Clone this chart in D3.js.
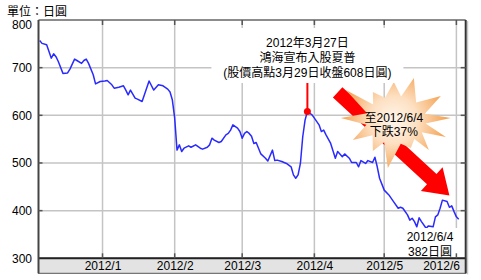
<!DOCTYPE html>
<html>
<head>
<meta charset="utf-8">
<script src="https://cdn.jsdelivr.net/npm/d3@7"></script>
<style>
  body { margin: 0; background: #fff; }
  text { font-family: "Liberation Sans", "Noto Sans CJK TC", sans-serif; font-size: 12px; fill: #000; }
</style>
</head>
<body>
<div id="chart"></div>
<script>
// daily closes (JPY)
const dates = [
  "2011-12-05","2011-12-06","2011-12-08","2011-12-10","2011-12-11","2011-12-12","2011-12-13","2011-12-15",
  "2011-12-17","2011-12-18","2011-12-20","2011-12-21","2011-12-23","2011-12-24","2011-12-25","2011-12-26",
  "2011-12-28","2011-12-29","2011-12-31","2012-01-02","2012-01-03","2012-01-05","2012-01-06","2012-01-08",
  "2012-01-10","2012-01-11","2012-01-12","2012-01-13","2012-01-15","2012-01-16","2012-01-18","2012-01-21",
  "2012-01-23","2012-01-25","2012-01-27","2012-01-29","2012-01-30","2012-01-31","2012-02-01","2012-02-02",
  "2012-02-03","2012-02-04","2012-02-05","2012-02-07","2012-02-08","2012-02-10","2012-02-12","2012-02-13",
  "2012-02-15","2012-02-16","2012-02-17","2012-02-18","2012-02-20","2012-02-21","2012-02-23","2012-02-24",
  "2012-02-25","2012-02-26","2012-02-28","2012-02-29","2012-03-01","2012-03-02","2012-03-03","2012-03-04",
  "2012-03-05","2012-03-06","2012-03-07","2012-03-08","2012-03-09","2012-03-11","2012-03-12","2012-03-14",
  "2012-03-15","2012-03-16","2012-03-18","2012-03-20","2012-03-22","2012-03-23","2012-03-24","2012-03-25",
  "2012-03-26","2012-03-27","2012-03-28","2012-03-29","2012-03-31","2012-04-01","2012-04-03","2012-04-04",
  "2012-04-05","2012-04-06","2012-04-08","2012-04-10","2012-04-11","2012-04-13","2012-04-14","2012-04-16",
  "2012-04-17","2012-04-19","2012-04-20","2012-04-21","2012-04-23","2012-04-24","2012-04-26","2012-04-27",
  "2012-04-28","2012-04-29","2012-05-01","2012-05-03","2012-05-05","2012-05-07","2012-05-08","2012-05-09",
  "2012-05-11","2012-05-12","2012-05-13","2012-05-14","2012-05-15","2012-05-16","2012-05-17","2012-05-19",
  "2012-05-20","2012-05-22","2012-05-23","2012-05-24","2012-05-25","2012-05-26","2012-05-28","2012-05-29",
  "2012-05-30","2012-05-31","2012-06-01","2012-06-02"
];
const prices = [
  757,751,748,720,729,723,713,688,
  689,697,718,715,709,715,718,709,
  685,666,671,672,673,664,657,659,
  662,653,643,653,636,634,629,672,
  653,664,662,655,649,632,594,527,
  538,524,531,536,533,538,531,529,
  533,538,552,548,543,545,559,562,
  569,580,573,566,552,562,566,562,
  556,541,543,531,519,510,504,527,
  505,506,503,499,492,475,468,475,
  499,555,590,608,601,594,580,566,
  569,559,541,510,524,513,519,510,
  501,501,492,505,499,505,501,512,
  492,468,443,433,419,405,407,405,
  391,380,384,377,366,385,377,363,
  368,366,387,391,405,422,419,407,
  410,398,387,382
];
const yTicks = [300, 400, 500, 600, 700, 800];
const monthTicks = ["2012-01-01","2012-02-01","2012-03-01","2012-04-01","2012-05-01","2012-06-01"];
const monthLabels = ["2012/1","2012/2","2012/3","2012/4","2012/5","2012/6"];
const peakDate = "2012-03-29", peakValue = 608;
const peakText = ["2012年3月27日", "鴻海宣布入股夏普", "(股價高點3月29日收盤608日圓)"];
const endText = ["2012/6/4", "382日圓"];
const burstText = ["至2012/6/4", "下跌37%"];

const WIDTH = 481, HEIGHT = 280;
const M = { left: 38.5, top: 20, right: 15.3, bottom: 21.7 };
const parse = d3.timeParse("%Y-%m-%d");
const data = dates.map((d, i) => ({ date: parse(d), value: prices[i] }));

const svg = d3.select("#chart").append("svg")
  .attr("width", WIDTH).attr("height", HEIGHT);

const x = d3.scaleTime()
  .domain([new Date(2011, 11, 4, 12), new Date(2012, 5, 5)])
  .range([M.left, WIDTH - M.right]);
const y = d3.scaleLinear()
  .domain([300, 800])
  .range([HEIGHT - M.bottom, M.top]);

const x0 = M.left, x1 = WIDTH - M.right, yTop = M.top, yBot = HEIGHT - M.bottom;

// title
svg.append("text").attr("x", 7).attr("y", 16).text("單位：日圓");

// grid
svg.append("g").selectAll("line").data(yTicks.slice(1, -1)).join("line")
  .attr("x1", x0).attr("x2", x1).attr("y1", d => y(d)).attr("y2", d => y(d))
  .attr("stroke", "#c4c4c4").attr("stroke-width", 1.5);
svg.append("g").selectAll("line").data(monthTicks).join("line")
  .attr("x1", d => x(parse(d))).attr("x2", d => x(parse(d)))
  .attr("y1", yTop).attr("y2", yBot)
  .attr("stroke", "#c4c4c4").attr("stroke-width", 1.5);

// price line
svg.append("path").datum(data)
  .attr("fill", "none").attr("stroke", "#2a2aff").attr("stroke-width", 1.5)
  .attr("stroke-linejoin", "round")
  .attr("d", d3.line().x(d => x(d.date)).y(d => y(d.value)));

// red arrow
const S = [x(parse("2012-04-11")), y(648)];
const T = [x(parse("2012-05-29")), y(432)];
const L = Math.hypot(T[0] - S[0], T[1] - S[1]);
const u = [(T[0] - S[0]) / L, (T[1] - S[1]) / L], n = [-u[1], u[0]];
const sw = 7, hw = 16, hl = 24;
const P = (a, b) => [S[0] + u[0] * a + n[0] * b, S[1] + u[1] * a + n[1] * b];
svg.append("path")
  .attr("d", "M" + [P(0, sw), P(L - hl, sw), P(L - hl, hw), P(L, 0), P(L - hl, -hw), P(L - hl, -sw), P(0, -sw)].join("L") + "Z")
  .attr("fill", "#ff0000");

// starburst
const cx = x(parse("2012-05-06")), cy = y(590);
const tips = [[18,-42],[45,-24],[55,-2],[50,17],[33,30],[15,28],[-8,48],[-23,31],[-43,20],[-55,-2],[-50,-30],[-23,-28],[-2,-38]];
const pts = [];
tips.forEach((t, i) => {
  const nx = tips[(i + 1) % tips.length];
  pts.push([cx + t[0], cy + t[1]]);
  let a1 = Math.atan2(t[1], t[0]), a2 = Math.atan2(nx[1], nx[0]);
  if (a2 < a1) a2 += 2 * Math.PI;
  const am = (a1 + a2) / 2;
  pts.push([cx + 30 * Math.cos(am), cy + 24 * Math.sin(am)]);
});
const defs = svg.append("defs");
const grad = defs.append("radialGradient").attr("id", "burst")
  .attr("gradientUnits", "userSpaceOnUse")
  .attr("cx", cx - 2).attr("cy", cy).attr("r", 52);
grad.append("stop").attr("offset", "0%").attr("stop-color", "#fff6ec");
grad.append("stop").attr("offset", "45%").attr("stop-color", "#fde0c2");
grad.append("stop").attr("offset", "100%").attr("stop-color", "#f5a457");
svg.append("path").attr("d", "M" + pts.join("L") + "Z").attr("fill", "url(#burst)");
svg.append("g").selectAll("text").data(burstText).join("text")
  .attr("x", cx - 2).attr("y", (d, i) => cy - 2 + i * 14).attr("dy", "0.35em")
  .attr("text-anchor", "middle").text(d => d);

// peak annotation
const px = x(parse(peakDate)), py = y(peakValue);
svg.append("rect").attr("x", px - 96).attr("y", 28).attr("width", 192).attr("height", 55).attr("fill", "#fff");
svg.append("line").attr("x1", px).attr("x2", px).attr("y1", 83).attr("y2", py)
  .attr("stroke", "#ff0000").attr("stroke-width", 2);
svg.append("circle").attr("cx", px).attr("cy", py).attr("r", 3.5).attr("fill", "#ff0000");
svg.append("g").selectAll("text").data(peakText).join("text")
  .attr("x", px).attr("y", (d, i) => 43 + i * 15).attr("dy", "0.35em")
  .attr("text-anchor", "middle").text(d => d);

// end annotation
const last = data[data.length - 1];
svg.append("rect").attr("x", 401).attr("y", 228).attr("width", 58).attr("height", 29).attr("fill", "#fff");
svg.append("g").selectAll("text").data(endText).join("text")
  .attr("x", 430).attr("y", (d, i) => 237 + i * 15).attr("dy", "0.35em")
  .attr("text-anchor", "middle").text(d => d);

// frame
svg.append("rect").attr("x", x0).attr("y", yBot).attr("width", x1 - x0).attr("height", 15)
  .attr("fill", "#e3e3e3").attr("stroke", "#555").attr("stroke-width", 1);
svg.append("line").attr("x1", x0).attr("x2", x1).attr("y1", yTop).attr("y2", yTop)
  .attr("stroke", "#666").attr("stroke-width", 1.5);
svg.append("line").attr("x1", x0).attr("x2", x1).attr("y1", yBot).attr("y2", yBot)
  .attr("stroke", "#222").attr("stroke-width", 2);
svg.append("line").attr("x1", x0).attr("x2", x0).attr("y1", yTop).attr("y2", yBot + 15)
  .attr("stroke", "#444").attr("stroke-width", 2);
svg.append("line").attr("x1", x1).attr("x2", x1).attr("y1", yTop).attr("y2", yBot + 15)
  .attr("stroke", "#333").attr("stroke-width", 2);
svg.append("line").attr("x1", x1 + 2).attr("x2", x1 + 2).attr("y1", yTop + 1).attr("y2", yBot + 16)
  .attr("stroke", "#bbb").attr("stroke-width", 1);

// ticks
const tk = svg.append("g").attr("stroke", "#555").attr("stroke-width", 1.5);
monthTicks.forEach(d => {
  const xx = x(parse(d));
  tk.append("line").attr("x1", xx).attr("x2", xx).attr("y1", yTop).attr("y2", yTop + 5);
  tk.append("line").attr("x1", xx).attr("x2", xx).attr("y1", yBot - 5).attr("y2", yBot);
});
yTicks.slice(1, -1).forEach(v => {
  tk.append("line").attr("x1", x1 - 5).attr("x2", x1).attr("y1", y(v)).attr("y2", y(v));
  tk.append("line").attr("x1", x0).attr("x2", x0 + 4).attr("y1", y(v)).attr("y2", y(v));
});

// y axis labels
const yAxis = svg.append("g").attr("transform", `translate(${x0},0)`)
  .call(d3.axisLeft(y).tickValues(yTicks).tickSize(0).tickPadding(6.5).tickFormat(d3.format("d")));
yAxis.select(".domain").remove();
yAxis.selectAll("text").style("font-size", "12px").attr("fill", "#000")
  .attr("y", d => Math.max(y(d), yTop + 5) - y(d));

// x axis labels
const xAxis = svg.append("g").attr("transform", `translate(0,${yBot})`)
  .call(d3.axisBottom(x).tickValues(monthTicks.map(parse)).tickSize(0).tickPadding(3.5)
    .tickFormat((d, i) => monthLabels[i]));
xAxis.select(".domain").remove();
xAxis.selectAll("text").style("font-size", "12px").attr("fill", "#000");
xAxis.selectAll(".tick:last-of-type text").attr("text-anchor", "end").attr("x", 3);
</script>
</body>
</html>
